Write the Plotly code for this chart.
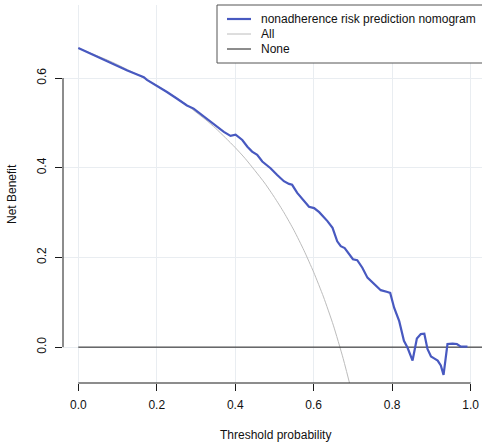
import plotly.graph_objects as go

# Decision curve: net benefit versus threshold probability
threshold = [0.000, 0.020, 0.040, 0.060, 0.082, 0.100, 0.125, 0.150, 0.167, 0.175,
             0.200, 0.226, 0.250, 0.277, 0.294, 0.320, 0.345, 0.371, 0.388, 0.401,
             0.418, 0.431, 0.443, 0.456, 0.469, 0.490, 0.507, 0.524, 0.537, 0.545,
             0.558, 0.575, 0.588, 0.601, 0.614, 0.635, 0.648, 0.660, 0.669, 0.679,
             0.690, 0.700, 0.711, 0.724, 0.737, 0.754, 0.771, 0.788, 0.795, 0.805,
             0.818, 0.830, 0.839, 0.852, 0.863, 0.873, 0.882, 0.890, 0.899, 0.907,
             0.916, 0.924, 0.931, 0.941, 0.954, 0.965, 0.975, 0.992]
nomogram_nb = [0.667, 0.659, 0.651, 0.643, 0.634, 0.626, 0.617, 0.608, 0.602, 0.596,
               0.583, 0.569, 0.555, 0.539, 0.532, 0.514, 0.497, 0.480, 0.471, 0.474,
               0.462, 0.447, 0.436, 0.429, 0.414, 0.399, 0.384, 0.370, 0.364, 0.362,
               0.344, 0.325, 0.313, 0.310, 0.301, 0.281, 0.266, 0.236, 0.225, 0.221,
               0.207, 0.196, 0.194, 0.177, 0.155, 0.140, 0.127, 0.123, 0.121, 0.088,
               0.058, 0.014, -0.001, -0.030, 0.019, 0.029, 0.030, -0.004, -0.021, -0.025,
               -0.030, -0.041, -0.062, 0.007, 0.008, 0.007, 0.001, 0.001]

# Treat-all strategy
all_threshold = [0.000, 0.025, 0.050, 0.075, 0.100, 0.125, 0.150, 0.175, 0.200, 0.225,
                 0.250, 0.275, 0.300, 0.325, 0.350, 0.375, 0.400, 0.425, 0.450, 0.475,
                 0.500, 0.525, 0.550, 0.575, 0.600, 0.625, 0.650, 0.675, 0.700]
all_nb = [0.667, 0.658, 0.649, 0.640, 0.630, 0.619, 0.608, 0.596, 0.584, 0.570,
          0.556, 0.541, 0.524, 0.507, 0.488, 0.467, 0.445, 0.421, 0.394, 0.366,
          0.334, 0.299, 0.260, 0.216, 0.167, 0.112, 0.049, -0.025, -0.110]

# Treat-none strategy
none_threshold = [0.0, 1.03]
none_nb = [0.0, 0.0]

x_ticks = [0.0, 0.2, 0.4, 0.6, 0.8, 1.0]
y_ticks = [0.0, 0.2, 0.4, 0.6]
x_tick_text = ["0.0", "0.2", "0.4", "0.6", "0.8", "1.0"]
y_tick_text = ["0.0", "0.2", "0.4", "0.6"]

legend_names = ["nonadherence risk prediction nomogram", "All", "None"]
BLUE = "#4859c0"
GREY = "#bcbcbc"
BLACK = "#1a1a1a"
legend_colors = [BLUE, GREY, BLACK]
legend_widths = [2.2, 1, 1]

W, H = 482, 445
ML, MR, MT, MB = 63, 0, 5, 62
PW, PH = W - ML - MR, H - MT - MB


def px(x):
    return (x - ML) / PW


def py(y):
    return (H - MB - y) / PH


FONT = "Liberation Sans, Arial, Helvetica, sans-serif"

fig = go.Figure()
fig.add_trace(go.Scatter(x=all_threshold, y=all_nb, mode="lines", line=dict(color=GREY, width=1, shape="spline", smoothing=0.6),
                         name=legend_names[1], showlegend=False, hoverinfo="skip"))
fig.add_trace(go.Scatter(x=none_threshold, y=none_nb, mode="lines", line=dict(color=BLACK, width=1),
                         name=legend_names[2], showlegend=False, hoverinfo="skip"))
fig.add_trace(go.Scatter(x=threshold, y=nomogram_nb, mode="lines", line=dict(color=BLUE, width=2.2),
                         name=legend_names[0], showlegend=False))

shapes = [
    # axis lines spanning the tick range
    dict(type="line", xref="paper", yref="y", x0=0, x1=0, y0=0, y1=0.6, line=dict(color=BLACK, width=1)),
    dict(type="line", xref="x", yref="paper", x0=0, x1=1, y0=0, y1=0, line=dict(color=BLACK, width=1)),
    # legend frame
    dict(type="rect", xref="paper", yref="paper", x0=px(217), x1=px(492), y0=py(63), y1=py(5),
         line=dict(color="#555555", width=1), fillcolor="white", layer="above"),
]
annotations = []
rows_y = [19, 34, 49]
for name, col, wdt, ry in zip(legend_names, legend_colors, legend_widths, rows_y):
    shapes.append(dict(type="line", xref="paper", yref="paper", x0=px(227), x1=px(251), y0=py(ry), y1=py(ry),
                       line=dict(color=col, width=wdt), layer="above"))
    annotations.append(dict(text=name, xref="paper", yref="paper", x=px(259), y=py(ry), xanchor="left",
                            yanchor="middle", showarrow=False, font=dict(size=12, color="#111111", family=FONT)))

annotations.append(dict(text="Threshold probability", xref="paper", yref="paper", x=px(275), y=py(435),
                        xanchor="center", yanchor="middle", showarrow=False,
                        font=dict(size=12, color="#111111", family=FONT)))
annotations.append(dict(text="Net Benefit", xref="paper", yref="paper", x=px(12), y=py(194),
                        xanchor="center", yanchor="middle", textangle=-90, showarrow=False,
                        font=dict(size=12, color="#111111", family=FONT)))

fig.update_layout(
    width=W, height=H,
    margin=dict(l=ML, r=MR, t=MT, b=MB, autoexpand=False),
    plot_bgcolor="white", paper_bgcolor="white",
    font=dict(family=FONT, size=12, color="#111111"),
    shapes=shapes, annotations=annotations,
    showlegend=False,
)
fig.update_xaxes(range=[-0.039, 1.029], tickvals=x_ticks, ticktext=x_tick_text, showgrid=True,
                 gridcolor="#e9edf1", gridwidth=1, zeroline=False, showline=False, ticks="outside",
                 ticklen=7, tickcolor=BLACK, tickwidth=1, ticklabelstandoff=4,
                 tickfont=dict(size=12, color="#111111", family=FONT))
fig.update_yaxes(range=[-0.08, 0.763], tickvals=y_ticks, ticktext=y_tick_text, showgrid=True,
                 gridcolor="#e9edf1", gridwidth=1, zeroline=False, showline=False, ticks="outside",
                 ticklen=7, tickcolor=BLACK, tickwidth=1, tickangle=-90, ticklabelstandoff=4,
                 tickfont=dict(size=12, color="#111111", family=FONT))

fig.write_html("out.html")
